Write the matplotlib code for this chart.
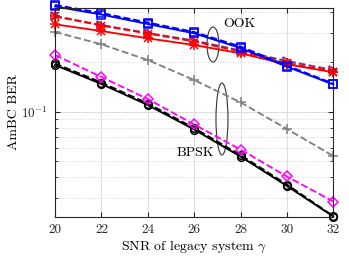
import matplotlib
matplotlib.use("Agg")
import matplotlib.pyplot as plt
from matplotlib.patches import Ellipse
import numpy as np

plt.rcParams['font.family'] = 'serif'
plt.rcParams['font.serif'] = ['cmr10', 'DejaVu Serif']
plt.rcParams['mathtext.fontset'] = 'cm'
plt.rcParams['axes.unicode_minus'] = False

snr = [20, 22, 24, 26, 28, 30, 32]
ook_blue_solid = [0.4342, 0.3882, 0.3400, 0.2987, 0.2432, 0.1874, 0.1462]
ook_blue_dashed = [0.4433, 0.3964, 0.3472, 0.3041, 0.2483, 0.1905, 0.1482]
ook_red_solid = [0.3386, 0.3083, 0.2785, 0.2536, 0.2259, 0.1938, 0.1733]
ook_red_dashed = [0.3776, 0.3330, 0.2978, 0.2663, 0.2316, 0.1973, 0.1752]
ook_purple_dashed = [0.3802, 0.3353, 0.2999, 0.2700, 0.2349, 0.2029, 0.1789]
gray_dashed = [0.3041, 0.2562, 0.2057, 0.1556, 0.1140, 0.0786, 0.0539]
bpsk_magenta_dashed = [0.2206, 0.1623, 0.1194, 0.0837, 0.0590, 0.0405, 0.02856]
bpsk_black_solid = [0.1919, 0.1472, 0.1098, 0.0780, 0.0535, 0.0355, 0.02317]
bpsk_black_dashed = [0.1960, 0.1503, 0.1121, 0.0796, 0.0546, 0.0362, 0.0233]

fig = plt.figure(figsize=(3.49, 2.58), dpi=100)
ax = fig.add_axes([0.1576, 0.160, 0.7974, 0.8078])

lw = 1.35
ms = 5.5
common = dict(clip_on=False, markerfacecolor='none', markeredgewidth=1.1)
ax.plot(snr, bpsk_black_dashed, '--', color='black', lw=lw, marker='o', ms=ms, **common)
ax.plot(snr, bpsk_black_solid, '-', color='black', lw=lw, marker='o', ms=ms, **common)
ax.plot(snr, bpsk_magenta_dashed, '--', color='#ff00ff', lw=lw, marker='D', ms=ms - 0.5, **common)
ax.plot(snr, gray_dashed, '--', color='#808080', lw=lw, marker='+', ms=ms + 1, **common)
ax.plot(snr, ook_purple_dashed, '--', color='#7e2f8e', lw=lw, marker='>', ms=ms, **common)
ax.plot(snr, ook_red_dashed, '--', color='red', lw=lw, marker='x', ms=ms, **common)
ax.plot(snr, ook_red_solid, '-', color='red', lw=lw, marker='x', ms=ms, **common)
ax.plot(snr, ook_red_dashed, ' ', color='red', marker='+', ms=ms + 1, **common)
ax.plot(snr, ook_red_solid, ' ', color='red', marker='+', ms=ms + 1, **common)
ax.plot(snr, ook_blue_dashed, '--', color='blue', lw=lw, marker='s', ms=ms, **common)
ax.plot(snr, ook_blue_solid, '-', color='blue', lw=lw, marker='s', ms=ms, **common)

ax.set_yscale('log')
ax.set_xlim(20, 32)
ax.set_ylim(0.0231, 0.4233)
ax.set_xticks(snr)
ax.set_xticklabels([str(s) for s in snr])
ax.set_yticks([0.1])
ax.set_yticklabels([r'$10^{-1}$'])
ax.yaxis.set_minor_locator(matplotlib.ticker.LogLocator(base=10, subs=np.arange(2, 10)))
ax.yaxis.set_minor_formatter(matplotlib.ticker.NullFormatter())

ax.grid(True, which='major', axis='x', color='#dcdcdc', lw=0.7, ls='-')
ax.grid(True, which='major', axis='y', color='#dcdcdc', lw=0.7, ls='-')
ax.grid(True, which='minor', axis='y', color='#c8c8c8', lw=0.6, ls=(0, (1, 2)))
ax.set_axisbelow(True)

ax.tick_params(which='both', direction='in', top=True, right=True, labelsize=9.5, colors='#262626')
ax.tick_params(which='major', length=3.5, pad=5)
ax.tick_params(which='minor', length=2)
for s in ax.spines.values():
    s.set_color('#262626')
    s.set_linewidth(0.8)

ax.set_xlabel(r'SNR of legacy system $\gamma$', fontsize=10, labelpad=2)
ax.set_ylabel('AmBC BER', fontsize=10, labelpad=1)

ax.add_patch(Ellipse((0.5677, 0.8263), 0.0431, 0.168, transform=ax.transAxes,
                     fill=False, edgecolor='#333333', lw=0.8, clip_on=False))
ax.add_patch(Ellipse((0.600, 0.4688), 0.0431, 0.3455, transform=ax.transAxes,
                     fill=False, edgecolor='#333333', lw=0.8, clip_on=False))
ax.text(0.6037, 0.9247, 'OOK', transform=ax.transAxes, fontsize=10, va='center', ha='left')
ax.text(0.4384, 0.3057, 'BPSK', transform=ax.transAxes, fontsize=10, va='center', ha='left')

fig.savefig('out.png', dpi=100)
